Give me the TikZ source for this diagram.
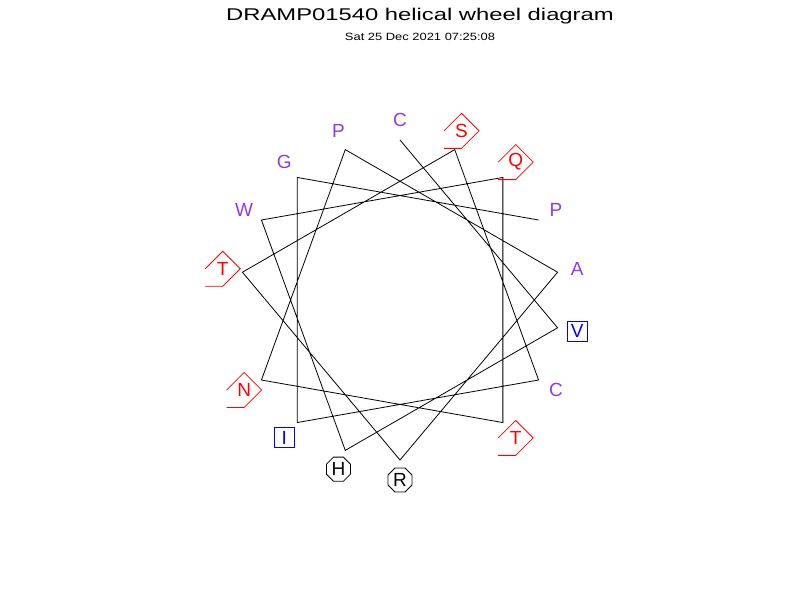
\documentclass[tikz,border=0pt]{standalone}
\usepackage{fontspec}
\setmainfont{Liberation Sans}
\usetikzlibrary{shapes.geometric,calc}
\definecolor{hyd}{RGB}{140,60,230}
\definecolor{pol}{RGB}{255,0,0}
\definecolor{boxc}{RGB}{0,0,255}
\begin{document}
\begin{tikzpicture}[x=1pt,y=-1pt,
  wheel/.style={line width=0.8pt,black},
  res/.style={font=\fontsize{19}{19}\selectfont,inner sep=0pt},
  hydro/.style={res,text=hyd},
  polar/.style={res,text=pol},
  boxed/.style={res,text=boxc,draw=boxc,line width=1pt,minimum width=20pt,minimum height=20pt},
  octa/.style={res,draw=black,regular polygon,regular polygon sides=8,minimum size=26pt,line width=0.8pt},
  pentline/.style={draw=pol,line width=0.8pt}]
\useasboundingbox (0,0) rectangle (800,600);
\node (title) at (420,16) {\fontsize{17}{17}\selectfont\scalebox{1.4}[1]{DRAMP01540 helical wheel diagram}};
\node (date) at (420,37) {\fontsize{10.5}{10.5}\selectfont\scalebox{1.23}[1]{Sat 25 Dec 2021 07:25:08}};
\foreach \k/\a in {0/0,1/100,2/200,3/300,4/40,5/140,6/240,7/340,8/80,9/180,10/280,11/20,12/120,13/220,14/320,15/60}{
  \coordinate (v\k) at ({400+160*sin(\a)},{300-160*cos(\a)});
  \coordinate (p\k) at ({400+180*sin(\a)},{300-180*cos(\a)});
}
\draw[wheel] (v0) -- (v1) -- (v2) -- (v3) -- (v4) -- (v5) -- (v6) -- (v7) -- (v8) -- (v9) -- (v10) -- (v11) -- (v12) -- (v13) -- (v14) -- (v15);
% hydrophobic
\node[hydro] (l0) at (p0) {C};
\node[hydro] (l3) at (p3) {W};
\node[hydro] (l7) at (p7) {P};
\node[hydro] (l8) at (p8) {A};
\node[hydro] (l12) at (p12) {C};
\node[hydro] (l14) at (p14) {G};
\node[hydro] (l15) at (p15) {P};
% boxed
\node[boxed] (l1) at (p1) {V};
\node[boxed] (l13) at (p13) {I};
% charged
\node[octa] (l2) at (p2) {H};
\node[octa] (l9) at (p9) {R};
% polar
\foreach \k/\t in {4/Q,5/T,6/N,10/T,11/S}{
  \node[polar] (l\k) at (p\k) {\t};
  \draw[pentline] ($(l\k.center)+(-17.5,17.5)$) -- ($(l\k.center)+(0,17.5)$) -- ($(l\k.center)+(17.5,0)$) -- ($(l\k.center)+(0,-17.5)$) -- ($(l\k.center)+(-17.5,0)$);
}
\end{tikzpicture}
\end{document}
